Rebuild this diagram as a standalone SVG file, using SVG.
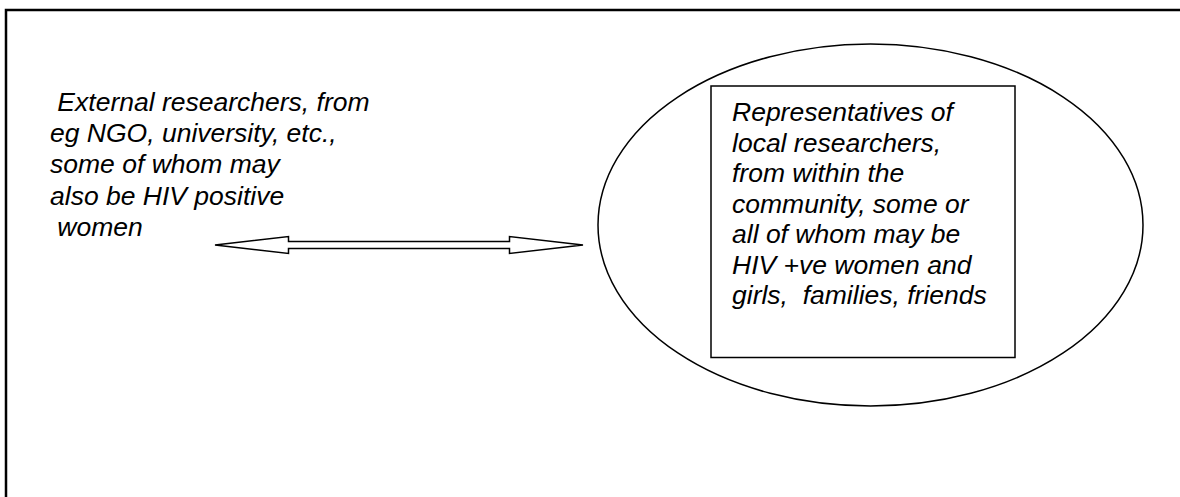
<svg xmlns="http://www.w3.org/2000/svg" width="1180" height="497" viewBox="0 0 1180 497">
  <style>
    .frame { fill: none; stroke: #000; stroke-width: 2.5; }
    .outline { fill: #fff; stroke: #000; stroke-width: 1.5; }
    .label { font-family: "Liberation Sans", Arial, sans-serif; font-style: italic; font-size: 26.5px; fill: #000; }
  </style>
  <rect width="1180" height="497" fill="#fff"/>
  <!-- open page frame: top and left edges only -->
  <path class="frame" d="M6 497 V10 H1180"/>

  <g id="external-researchers">
    <text class="label" xml:space="preserve">
      <tspan x="50" y="111"> External researchers, from</tspan>
      <tspan x="50" y="142">eg NGO, university, etc.,</tspan>
      <tspan x="50" y="173">some of whom may</tspan>
      <tspan x="50" y="204.5">also be HIV positive</tspan>
      <tspan x="50" y="236"> women</tspan>
    </text>
  </g>

  <g id="community">
    <ellipse class="outline" cx="870.5" cy="225" rx="272.5" ry="181"/>
    <g id="local-researchers">
      <rect class="outline" x="711" y="86" width="304" height="271.5"/>
      <text class="label" xml:space="preserve">
        <tspan x="732" y="121">Representatives of</tspan>
        <tspan x="732" y="151.5">local researchers,</tspan>
        <tspan x="732" y="182">from within the</tspan>
        <tspan x="732" y="212.5">community, some or</tspan>
        <tspan x="732" y="243">all of whom may be</tspan>
        <tspan x="732" y="273.5">HIV +ve women and</tspan>
        <tspan x="732" y="304">girls,  families, friends</tspan>
      </text>
    </g>
  </g>

  <g id="connectors">
    <!-- hollow double-headed block arrow -->
    <path class="outline" stroke-linejoin="miter" d="M215 245 L288.5 236.5 V241.5 H509.5 V236.5 L583 245 L509.5 253.5 V248.5 H288.5 V253.5 Z"/>
  </g>
</svg>
